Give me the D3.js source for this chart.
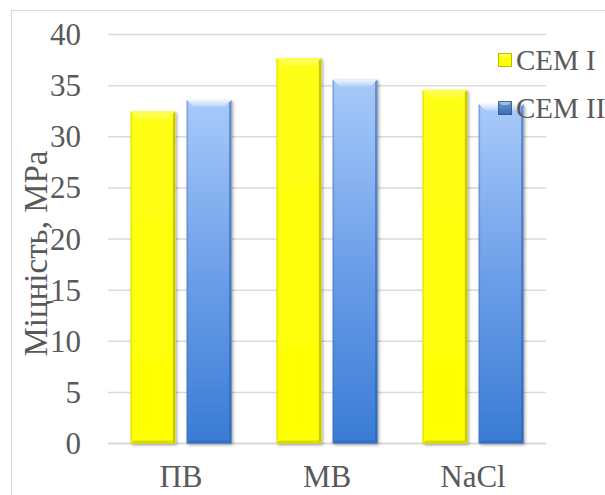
<!DOCTYPE html>
<html>
<head>
<meta charset="utf-8">
<script src="https://cdn.jsdelivr.net/npm/d3@7"></script>
<style>
  html, body { margin: 0; padding: 0; background: #fff; }
  svg { display: block; }
  text { font-family: "Liberation Serif", "Times New Roman", serif; fill: #595959; }
</style>
</head>
<body>
<svg id="chart" width="605" height="495"></svg>
<script>
const categories = ["ПВ", "MB", "NaCl"];
const seriesNames = ["CEM I", "CEM II"];
const cem1 = [32.5, 37.7, 34.6];
const cem2 = [33.6, 35.6, 33.2];
const yTicks = [0, 5, 10, 15, 20, 25, 30, 35, 40];
const yTitle = "Міцність, МРа";

const svg = d3.select("#chart");
const plot = { left: 108, right: 546, top: 34.5, bottom: 443.5 };

// defs
const defs = svg.append("defs");
const gBlue = defs.append("linearGradient").attr("id", "gBlue").attr("x1", 0).attr("y1", 0).attr("x2", 0).attr("y2", 1);
gBlue.append("stop").attr("offset", "0%").attr("stop-color", "#a8cafa");
gBlue.append("stop").attr("offset", "50%").attr("stop-color", "#6d9fe9");
gBlue.append("stop").attr("offset", "100%").attr("stop-color", "#3a7bd5");
const gYel = defs.append("linearGradient").attr("id", "gYel").attr("x1", 0).attr("y1", 0).attr("x2", 0).attr("y2", 1);
gYel.append("stop").attr("offset", "0%").attr("stop-color", "#ffff1a");
gYel.append("stop").attr("offset", "100%").attr("stop-color", "#ffff00");
const gLegBlue = defs.append("linearGradient").attr("id", "gLegBlue").attr("x1", 0).attr("y1", 0).attr("x2", 0).attr("y2", 1);
gLegBlue.append("stop").attr("offset", "0%").attr("stop-color", "#6f9bd6");
gLegBlue.append("stop").attr("offset", "100%").attr("stop-color", "#3a69ab");
const topHi = defs.append("linearGradient").attr("id", "topHi").attr("x1", 0).attr("y1", 0).attr("x2", 0).attr("y2", 1);
topHi.append("stop").attr("offset", "0%").attr("stop-color", "#fff").attr("stop-opacity", 0.85);
topHi.append("stop").attr("offset", "100%").attr("stop-color", "#fff").attr("stop-opacity", 0.15);
const sh = defs.append("filter").attr("id", "shadow").attr("x", "-20%").attr("y", "-5%").attr("width", "150%").attr("height", "115%");
sh.append("feDropShadow").attr("dx", 1.5).attr("dy", 1.5).attr("stdDeviation", 1.5)
  .attr("flood-color", "#000").attr("flood-opacity", 0.35);

// chart border
svg.append("rect").attr("x", 11.5).attr("y", 10.5).attr("width", 700).attr("height", 600)
  .attr("fill", "none").attr("stroke", "#d9d9d9").attr("stroke-width", 1.2);

const y = d3.scaleLinear().domain([0, 40]).range([plot.bottom, plot.top]);
const x0 = d3.scaleBand().domain(categories).range([plot.left, plot.right]).paddingInner(0.308).paddingOuter(0.154);
const x1 = d3.scaleBand().domain(seriesNames).range([0, x0.bandwidth()]).paddingInner(0.2).paddingOuter(0);

// gridlines
svg.append("g").selectAll("line").data(yTicks).join("line")
  .attr("x1", plot.left).attr("x2", plot.right)
  .attr("y1", d => y(d)).attr("y2", d => y(d))
  .attr("stroke", "#d9d9d9").attr("stroke-width", d => d === 0 ? 2 : 1.5);

// y tick labels
svg.append("g").selectAll("text").data(yTicks).join("text")
  .attr("x", 81).attr("y", d => y(d)).attr("dy", "0.34em")
  .attr("text-anchor", "end").attr("font-size", 31).text(d => d);

// y title
svg.append("text").attr("transform", "translate(47,253.5) rotate(-90)")
  .attr("text-anchor", "middle").attr("font-size", 33).text(yTitle);

// category labels
svg.append("g").selectAll("text").data(categories).join("text")
  .attr("x", d => x0(d) + x0.bandwidth() / 2).attr("y", 487)
  .attr("text-anchor", "middle").attr("font-size", 31).text(d => d);

// bars
const barData = [];
categories.forEach((c, i) => {
  barData.push({ cat: c, s: seriesNames[0], v: cem1[i] });
  barData.push({ cat: c, s: seriesNames[1], v: cem2[i] });
});

function drawBevelBar(g, bx, by, bw, bh, isBlue) {
  const grp = g.append("g");
  grp.append("rect").attr("x", bx).attr("y", by).attr("width", bw).attr("height", bh)
    .attr("fill", isBlue ? "url(#gBlue)" : "url(#gYel)").attr("filter", "url(#shadow)");
  const b = Math.min(7, bh / 2);
  grp.append("path").attr("d", `M${bx},${by} L${bx + bw},${by} L${bx + bw - b},${by + b} L${bx + b},${by + b} Z`)
    .attr("fill", isBlue ? "url(#topHi)" : "#ffff80").attr("opacity", isBlue ? 1 : 0.5);
  grp.append("path").attr("d", `M${bx + bw},${by} L${bx + bw},${by + bh} L${bx + bw - 2.5},${by + bh - 2.5} L${bx + bw - 2.5},${by + 2.5} Z`)
    .attr("fill", isBlue ? "#2d5e9e" : "#9a9a00").attr("opacity", 0.55);
  grp.append("path").attr("d", `M${bx},${by + bh} L${bx + bw},${by + bh} L${bx + bw - 3},${by + bh - 3} L${bx + 3},${by + bh - 3} Z`)
    .attr("fill", isBlue ? "#2d5e9e" : "#b0b000").attr("opacity", 0.45);
  grp.append("path").attr("d", `M${bx},${by} L${bx},${by + bh} L${bx + 1.5},${by + bh - 1.5} L${bx + 1.5},${by + 1.5} Z`)
    .attr("fill", isBlue ? "#3e6fb0" : "#c8c800").attr("opacity", 0.4);
}

const barsG = svg.append("g");
barData.forEach(d => {
  const bx = x0(d.cat) + x1(d.s);
  const by = y(d.v);
  drawBevelBar(barsG, bx, by, x1.bandwidth(), y(0) - by, d.s === seriesNames[1]);
});

// legend
const legend = svg.append("g");
const legY = [60, 108];
seriesNames.forEach((s, i) => {
  const sx = 498, sy = legY[i] - 7, ss = 14;
  const grp = legend.append("g");
  grp.append("rect").attr("x", sx).attr("y", sy).attr("width", ss).attr("height", ss)
    .attr("fill", i === 0 ? "#ffff00" : "url(#gLegBlue)");
  grp.append("rect").attr("x", sx + 0.5).attr("y", sy + 0.5).attr("width", ss - 1).attr("height", ss - 1)
    .attr("fill", "none").attr("stroke", i === 0 ? "#a0a000" : "#2c5590").attr("stroke-width", 1).attr("opacity", 0.7);
  grp.append("path").attr("d", `M${sx + 1},${sy + 1} L${sx + ss - 1},${sy + 1} L${sx + ss - 4},${sy + 4} L${sx + 4},${sy + 4} Z`)
    .attr("fill", "#fff").attr("opacity", 0.4);
  legend.append("text").attr("x", 516).attr("y", legY[i]).attr("dy", "0.34em")
    .attr("font-size", 29).text(s);
});
</script>
</body>
</html>
